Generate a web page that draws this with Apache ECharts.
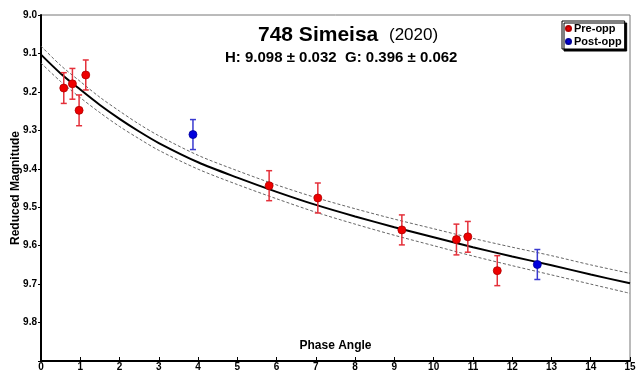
<!DOCTYPE html>
<html><head><meta charset="utf-8">
<script src="https://cdn.jsdelivr.net/npm/echarts@6/dist/echarts.min.js"></script>
<style>html,body{margin:0;padding:0;background:#fff}#c{width:636px;height:371px}</style>
</head><body><div id="c"></div>
<script>
// Pre-opposition observations
const preAngle = [0.58, 0.80, 0.97, 1.14, 5.81, 7.05, 9.19, 10.58, 10.87, 11.62];
const preMag   = [9.190, 9.179, 9.248, 9.156, 9.444, 9.476, 9.559, 9.584, 9.577, 9.665];
const preErr   = [0.040, 0.040, 0.040, 0.039, 0.039, 0.039, 0.039, 0.040, 0.040, 0.039];
// Post-opposition observations
const postAngle = [3.87, 12.64];
const postMag   = [9.311, 9.649];
const postErr   = [0.039, 0.039];
// Fitted curve and uncertainty band
const fitAngle = [0, 0.5, 1, 1.5, 2, 2.5, 3, 4, 5, 6, 7, 8, 9, 10, 11, 12, 13, 14, 15];
const fitMag   = [9.103, 9.152, 9.194, 9.234, 9.270, 9.303, 9.333, 9.383, 9.423, 9.460, 9.494, 9.524, 9.552, 9.578, 9.604, 9.628, 9.651, 9.675, 9.698];
const fitUpper = [9.081, 9.131, 9.173, 9.214, 9.250, 9.284, 9.314, 9.365, 9.405, 9.442, 9.475, 9.504, 9.531, 9.556, 9.581, 9.604, 9.626, 9.650, 9.672];
const fitLower = [9.125, 9.173, 9.215, 9.254, 9.290, 9.322, 9.352, 9.401, 9.441, 9.478, 9.513, 9.544, 9.573, 9.600, 9.627, 9.652, 9.676, 9.700, 9.724];
const xTicks = [0, 15, 1];
const yTicks = [9.0, 9.9, 0.1];

const FONT = '"Liberation Sans", Arial, sans-serif';
const zip = (a, b, c) => a.map((v, i) => c ? [v, b[i], c[i]] : [v, b[i]]);

function errBar(color) {
  return function (params, api) {
    const x = api.value(0), y = api.value(1), e = api.value(2);
    const p1 = api.coord([x, y - e]), p2 = api.coord([x, y + e]);
    const w = 3;
    const st = { stroke: color, lineWidth: 1.5 };
    return { type: 'group', children: [
      { type: 'line', shape: { x1: p1[0], y1: p1[1], x2: p2[0], y2: p2[1] }, style: st },
      { type: 'line', shape: { x1: p1[0] - w, y1: p1[1], x2: p1[0] + w, y2: p1[1] }, style: st },
      { type: 'line', shape: { x1: p2[0] - w, y1: p2[1], x2: p2[0] + w, y2: p2[1] }, style: st }
    ]};
  };
}

const chart = echarts.init(document.getElementById('c'), null, { renderer: 'canvas' });
chart.setOption({
  animation: false,
  backgroundColor: '#fff',
  grid: { left: 41, right: 6, top: 15, bottom: 10, containLabel: false, outerBoundsMode: 'none',
    show: true, borderColor: '#777', borderWidth: 1, backgroundColor: 'transparent' },
  xAxis: {
    type: 'value', min: xTicks[0], max: xTicks[1], interval: xTicks[2],
    name: 'Phase Angle', nameLocation: 'middle', nameGap: -21, nameMoveOverlap: false,
    nameTextStyle: { fontFamily: FONT, fontWeight: 'bold', fontSize: 12, color: '#000' },
    axisLine: { lineStyle: { color: '#000', width: 2 } },
    axisTick: { inside: true, length: 4, lineStyle: { color: '#000', width: 1 } },
    axisLabel: { fontFamily: FONT, fontWeight: 'bold', fontSize: 10, color: '#000', margin: 1 },
    splitLine: { show: false }
  },
  yAxis: {
    type: 'value', inverse: true, min: yTicks[0], max: yTicks[1], interval: yTicks[2],
    name: 'Reduced Magnitude', nameLocation: 'middle', nameGap: 19, nameMoveOverlap: false,
    nameTextStyle: { fontFamily: FONT, fontWeight: 'bold', fontSize: 12, color: '#000' },
    axisLine: { lineStyle: { color: '#000', width: 2 } },
    axisTick: { length: 3, lineStyle: { color: '#000', width: 1 } },
    axisLabel: { fontFamily: FONT, fontWeight: 'bold', fontSize: 10, color: '#000', margin: 4,
      formatter: v => (v > 9.85 ? '' : v.toFixed(1)) },
    splitLine: { show: false }
  },
  legend: {
    orient: 'vertical', left: 562, top: 21, padding: [2, 3, 2, 3], itemGap: 2,
    itemWidth: 5, itemHeight: 5, icon: 'circle',
    backgroundColor: '#fff', borderColor: '#000', borderWidth: 1,
    shadowColor: '#000', shadowOffsetX: 2, shadowOffsetY: 2, shadowBlur: 0,
    textStyle: { fontFamily: FONT, fontWeight: 'bold', fontSize: 11, color: '#000', padding: [0, 0, 0, -2] },
    data: ['Pre-opp', 'Post-opp']
  },
  graphic: [
    { type: 'text', left: 258, top: 25, style: { text: '748 Simeisa', fontFamily: FONT, fontWeight: 'bold', fontSize: 21, fill: '#000' } },
    { type: 'text', left: 389, top: 27, style: { text: '(2020)', fontFamily: FONT, fontSize: 17, fill: '#000' } },
    { type: 'text', left: 225, top: 50, style: { text: 'H: 9.098 \u00b1 0.032  G: 0.396 \u00b1 0.062', fontFamily: FONT, fontWeight: 'bold', fontSize: 15, fill: '#000' } }
  ],
  series: [
    { type: 'line', data: zip(fitAngle, fitUpper), smooth: 0.3, symbol: 'none', silent: true,
      lineStyle: { color: '#666', width: 1, type: [3, 2] }, z: 1 },
    { type: 'line', data: zip(fitAngle, fitLower), smooth: 0.3, symbol: 'none', silent: true,
      lineStyle: { color: '#666', width: 1, type: [3, 2] }, z: 1 },
    { type: 'line', data: zip(fitAngle, fitMag), smooth: 0.3, symbol: 'none', silent: true,
      lineStyle: { color: '#000', width: 2 }, z: 2 },
    { type: 'custom', renderItem: errBar('#e4303a'), data: zip(preAngle, preMag, preErr), encode: { x: 0, y: 1 }, z: 3 },
    { type: 'custom', renderItem: errBar('#3a3ad0'), data: zip(postAngle, postMag, postErr), encode: { x: 0, y: 1 }, z: 3 },
    { name: 'Pre-opp', type: 'scatter', data: zip(preAngle, preMag), symbolSize: 8,
      itemStyle: { color: '#ee0000', borderColor: '#b00000', borderWidth: 0.8, opacity: 1 }, z: 4 },
    { name: 'Post-opp', type: 'scatter', data: zip(postAngle, postMag), symbolSize: 8,
      itemStyle: { color: '#0000dd', borderColor: '#000099', borderWidth: 0.8, opacity: 1 }, z: 4 }
  ]
});
</script></body></html>
